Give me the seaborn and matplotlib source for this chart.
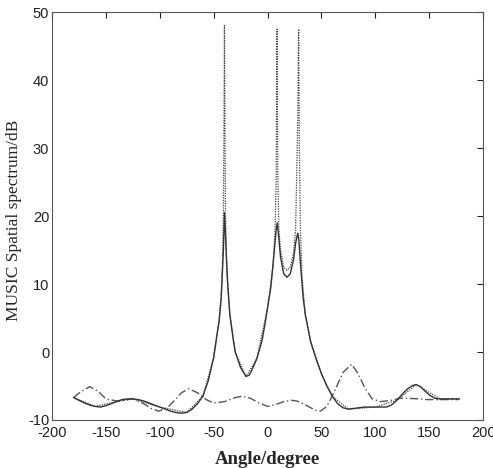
#MUSIC spatial spectrum: three estimates compared over the angle range.
import matplotlib
matplotlib.use('Agg')
import matplotlib.pyplot as plt
import pandas as pd
import seaborn as sns

# angles (degree) and spectrum values (dB)
solid_angle = [-180, -175, -170, -165, -160, -155, -150, -145, -140, -135, -130, -125,
               -120, -115, -110, -105, -100, -95, -90, -85, -80, -75, -70, -65, -60,
               -55, -50, -47, -45, -43, -41, -40, -39, -37, -35, -32, -30, -25, -20,
               -17, -15, -10, -5, -2, 0, 3, 6, 8, 9, 10, 12, 15, 18, 21, 24, 26, 28,
               29, 31, 33, 35, 40, 45, 50, 55, 60, 65, 70, 75, 80, 85, 90, 95, 100,
               105, 110, 115, 120, 125, 130, 135, 138, 142, 145, 150, 155, 160, 165,
               170, 175, 178]
solid_db = [-6.7, -7.1, -7.5, -7.8, -8.0, -8.1, -7.9, -7.6, -7.3, -7.0, -6.9, -6.9,
            -7.0, -7.2, -7.5, -7.8, -8.1, -8.4, -8.7, -8.9, -9.0, -8.9, -8.4, -7.6, -6.5,
            -4.2, -0.8, 2.5, 4.5, 8.0, 15.0, 20.5, 17.0, 10.0, 5.5, 2.0, 0.0, -2.3, -3.6,
            -3.4, -2.8, -1.0, 1.8, 4.5, 6.5, 9.5, 14.5, 18.0, 19.0, 17.5, 14.0, 11.5, 11.0,
            11.5, 13.5, 16.0, 17.5, 16.5, 12.0, 8.0, 5.5, 1.5, -1.0, -3.2, -5.0, -6.5,
            -7.6, -8.2, -8.4, -8.3, -8.2, -8.1, -8.1, -8.1, -8.1, -8.1, -7.8, -7.1, -6.2,
            -5.4, -4.9, -4.8, -5.1, -5.6, -6.3, -6.8, -6.9, -6.9, -6.9, -6.9, -6.9]

dotted_angle = [-180, -160, -140, -125, -100, -75, -60, -50, -45, -43, -42, -41, -40.5,
                -40, -39.5, -39, -38, -37, -35, -30, -20, -10, 0, 5, 7, 8, 8.7, 9.5, 10.5,
                12, 15, 18, 21, 24, 26, 27, 28, 28.8, 29.5, 30.5, 32, 35, 40, 50, 60, 75,
                100, 120, 138, 160, 178]
dotted_db = [-6.7, -8.0, -7.3, -6.9, -8.1, -8.9, -6.5, -0.8, 4.5, 8.5, 12.0, 20.0, 32.0,
             48.0, 32.0, 20.0, 12.0, 10.0, 5.5, 0.0, -3.6, -1.0, 6.5, 12.5, 18.0, 26.0,
             47.5, 26.0, 18.0, 15.0, 12.5, 12.0, 12.5, 14.5, 18.0, 26.0, 34.0, 47.5, 30.0,
             18.0, 11.0, 5.5, 1.5, -3.2, -6.5, -8.4, -8.1, -7.1, -4.8, -6.9, -6.9]

dash_angle = [-180, -173, -165, -157, -150, -140, -125, -115, -108, -101, -93, -85, -80,
              -73, -65, -57, -50, -40, -32, -24, -16, -8, 0, 8, 15, 22, 27, 33, 40, 45,
              49, 55, 62, 70, 78, 84, 90, 97, 105, 115, 123, 130, 140, 148, 160, 170, 177]
dash_db = [-6.7, -5.8, -5.1, -5.8, -6.9, -7.2, -6.9, -7.6, -8.3, -8.7, -8.2, -6.9, -6.0,
           -5.4, -6.0, -7.0, -7.5, -7.3, -6.8, -6.5, -6.8, -7.5, -8.0, -7.7, -7.3, -7.1,
           -7.2, -7.6, -8.2, -8.6, -8.7, -8.0, -5.8, -3.0, -1.8, -3.2, -5.2, -6.9, -7.3,
           -7.1, -6.8, -6.8, -6.9, -7.0, -7.0, -7.0, -7.0]

x_ticks = [-200, -150, -100, -50, 0, 50, 100, 150, 200]
y_ticks = [-10, 0, 10, 20, 30, 40, 50]

solid_df = pd.DataFrame({'Angle': solid_angle, 'dB': solid_db})
dotted_df = pd.DataFrame({'Angle': dotted_angle, 'dB': dotted_db})
dash_df = pd.DataFrame({'Angle': dash_angle, 'dB': dash_db})

sns.set_style('white')
plt.rcParams['font.family'] = ['Liberation Sans Narrow', 'Liberation Sans', 'DejaVu Sans']
plt.rcParams['axes.unicode_minus'] = False
plt.rcParams['xtick.direction'] = 'in'
plt.rcParams['ytick.direction'] = 'in'

fig = plt.figure(figsize=(4.93, 4.68), dpi=100)
ax = fig.add_axes([0.1055, 0.1026, 0.8745, 0.8714])

sns.lineplot(data=dotted_df, x='Angle', y='dB', ax=ax, color='#444444', lw=0.9,
             linestyle=(0, (1, 1)), sort=False)
sns.lineplot(data=dash_df, x='Angle', y='dB', ax=ax, color='#555555', lw=1.0,
             linestyle=(0, (6, 2, 1, 2)), sort=False)
sns.lineplot(data=solid_df, x='Angle', y='dB', ax=ax, color='#333333', lw=1.0, sort=False)

ax.set_xlim(-200, 200)
ax.set_ylim(-10, 50)
ax.set_xticks(x_ticks)
ax.set_yticks(y_ticks)
ax.tick_params(top=True, right=True, length=4, width=0.8, labelsize=10.5, colors='#222222',
               pad=2)
ax.tick_params(axis='x', pad=4.5)
for s in ax.spines.values():
    s.set_color('#555555')
    s.set_linewidth(0.8)

ax.set_xlabel('Angle/degree', family=['Liberation Serif'], fontsize=13.5, fontweight='bold')
ax.xaxis.set_label_coords(0.5, -0.076)
ax.set_ylabel('MUSIC Spatial spectrum/dB', family=['Liberation Serif'], fontsize=12.5)
ax.yaxis.set_label_coords(-0.07, 0.49)

plt.savefig('out.png', dpi=100)
